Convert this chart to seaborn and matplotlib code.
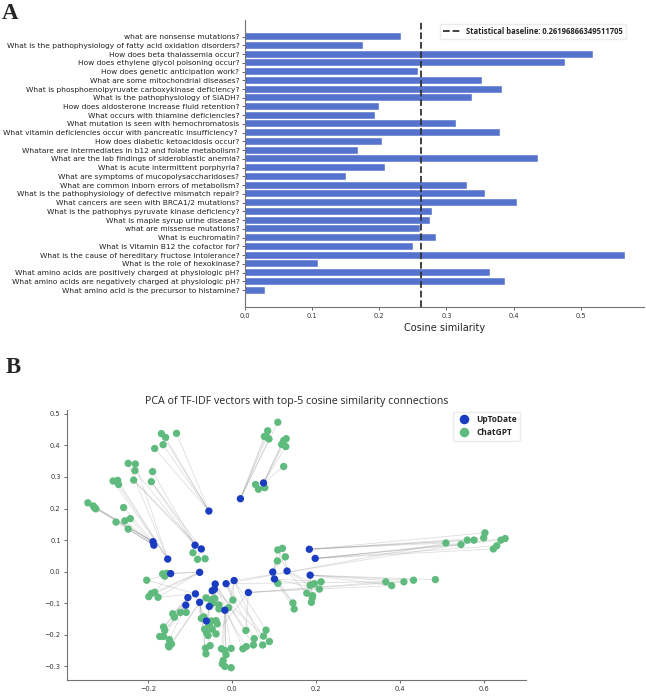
import numpy as np
import pandas as pd
import seaborn as sns
import matplotlib.pyplot as plt

sns.set_style("ticks", {"axes.edgecolor": "0.45", "xtick.color": "0.3", "ytick.color": "0.3"})
plt.rcParams['font.family'] = ['DejaVu Sans']

# ---- panel A: cosine similarity per question
questions = [
    "what are nonsense mutations?",
    "What is the pathophysiology of fatty acid oxidation disorders?",
    "How does beta thalassemia occur?",
    "How does ethylene glycol poisoning occur?",
    "How does genetic anticipation work?",
    "What are some mitochondrial diseases?",
    "What is phosphoenolpyruvate carboxykinase deficiency?",
    "What is the pathophysiology of SIADH?",
    "How does aldosterone increase fluid retention?",
    "What occurs with thiamine deficiencies?",
    "What mutation is seen with hemochromatosis",
    "What vitamin deficiencies occur with pancreatic insufficiency? ",
    "How does diabetic ketoacidosis occur?",
    "Whatare are intermediates in b12 and folate metabolism?",
    "What are the lab findings of sideroblastic anemia?",
    "What is acute intermittent porphyria?",
    "What are symptoms of mucopolysaccharidoses?",
    "What are common inborn errors of metabolism?",
    "What is the pathophysiology of defective mismatch repair?",
    "What cancers are seen with BRCA1/2 mutations?",
    "What is the pathophys pyruvate kinase deficiency?",
    "What is maple syrup urine disease?",
    "what are missense mutations?",
    "What is euchromatin?",
    "What is Vitamin B12 the cofactor for?",
    "What is the cause of hereditary fructose intolerance?",
    "What is the role of hexokinase?",
    "What amino acids are positively charged at physiologic pH?",
    "What amino acids are negatively charged at physiologic pH?",
    "What amino acid is the precursor to histamine?",
]
scores = [0.232, 0.176, 0.518, 0.476, 0.258, 0.353, 0.383, 0.338, 0.199, 0.193,
          0.315, 0.380, 0.204, 0.169, 0.437, 0.209, 0.150, 0.331, 0.357, 0.405,
          0.279, 0.276, 0.260, 0.285, 0.250, 0.566, 0.109, 0.365, 0.388, 0.030]
baseline = 0.26196866349511705

# ---- panel B: PCA coordinates
upto_x = [-0.055, -0.188, -0.186, -0.153, -0.088, -0.073, 0.020, 0.075, -0.146, -0.077,
          -0.040, -0.014, 0.005, -0.047, -0.042, -0.087, -0.105, -0.110, -0.077, -0.054,
          -0.017, -0.061, 0.039, 0.097, 0.131, 0.101, 0.184, 0.198, 0.186]
upto_y = [0.192, 0.095, 0.084, 0.040, 0.084, 0.072, 0.231, 0.281, -0.006, -0.002,
          -0.039, -0.038, -0.028, -0.060, -0.056, -0.070, -0.082, -0.106, -0.097, -0.110,
          -0.122, -0.156, -0.066, -0.001, 0.002, -0.023, 0.071, 0.042, -0.011]

chat_x = [-0.343, -0.330, -0.327, -0.324,
          -0.258, -0.276, -0.255, -0.242, -0.247,
          -0.283, -0.272, -0.270, -0.247, -0.230, -0.231, -0.234,
          -0.189, -0.192,
          -0.168, -0.158, -0.132, -0.164, -0.184,
          -0.093, -0.082, -0.064,
          0.109, 0.085, 0.077, 0.088, 0.083,
          0.129, 0.123, 0.118, 0.128, 0.123,
          0.056, 0.063, 0.078,
          0.509, 0.545, 0.560, 0.576, 0.599, 0.602, 0.622, 0.630, 0.640, 0.650,
          0.366, 0.380, 0.409, 0.432, 0.484,
          0.109, 0.120, 0.127, 0.108,
          0.186, 0.196, 0.212, 0.208, 0.178, 0.192, 0.191, 0.189,
          0.109, 0.145, 0.148,
          -0.203, -0.165, -0.155, -0.160, -0.184, -0.192, -0.198, -0.176,
          -0.141, -0.137, -0.123, -0.109,
          -0.163, -0.160, -0.163, -0.172, -0.149, -0.144, -0.150, -0.151,
          -0.062, -0.051, -0.041, -0.046, -0.031, -0.031,
          0.002, -0.008,
          -0.073, -0.067, -0.049, -0.038, -0.035, -0.054,
          -0.065, -0.061, -0.057, -0.047, -0.038,
          -0.063, -0.052, -0.062,
          -0.025, -0.017, -0.014, -0.002, -0.021, -0.023, -0.017, -0.002,
          0.033, 0.026, 0.034, 0.051, 0.053, 0.075, 0.081, 0.073, 0.089]
chat_y = [0.218, 0.208, 0.202, 0.199,
          0.203, 0.157, 0.161, 0.168, 0.135,
          0.287, 0.289, 0.276, 0.343, 0.341, 0.320, 0.290,
          0.317, 0.285,
          0.437, 0.425, 0.438, 0.402, 0.390,
          0.060, 0.039, 0.041,
          0.473, 0.446, 0.428, 0.420, 0.426,
          0.421, 0.415, 0.403, 0.396, 0.333,
          0.276, 0.261, 0.266,
          0.091, 0.086, 0.100, 0.100, 0.107, 0.123, 0.072, 0.082, 0.100, 0.105,
          -0.032, -0.044, -0.032, -0.027, -0.025,
          0.069, 0.074, 0.047, 0.034,
          -0.043, -0.038, -0.032, -0.055, -0.068, -0.076, -0.083, -0.097,
          -0.037, -0.099, -0.118,
          -0.027, -0.007, -0.005, -0.014, -0.065, -0.069, -0.079, -0.081,
          -0.133, -0.144, -0.129, -0.129,
          -0.175, -0.186, -0.205, -0.205, -0.215, -0.229, -0.238, -0.233,
          -0.083, -0.089, -0.085, -0.100, -0.105, -0.118,
          -0.090, -0.114,
          -0.148, -0.143, -0.156, -0.155, -0.165, -0.169,
          -0.182, -0.192, -0.202, -0.182, -0.197,
          -0.242, -0.234, -0.260,
          -0.244, -0.250, -0.263, -0.243, -0.281, -0.292, -0.300, -0.304,
          -0.186, -0.244, -0.237, -0.232, -0.212, -0.204, -0.185, -0.232, -0.221]

# top-5 ChatGPT neighbours of each UpToDate answer (indices into chat_*)
links = [
    [18, 19, 20, 21, 22], [0, 1, 2, 3, 4], [0, 5, 6, 7, 8], [9, 10, 11, 12, 13],
    [14, 15, 16, 17, 23], [24, 25, 23, 15, 17], [26, 27, 28, 29, 30],
    [31, 32, 33, 34, 35, 36, 37, 38], [69, 70, 71, 72, 73], [70, 71, 74, 75, 76],
    [119, 120, 122, 89, 90], [39, 49, 95, 123, 124], [95, 96, 40, 125, 126],
    [89, 90, 91, 92, 121], [91, 92, 93, 94, 127], [69, 76, 77, 97, 98],
    [77, 78, 79, 80, 81], [81, 82, 83, 84, 85], [86, 87, 108, 109, 110],
    [93, 94, 103, 104, 105], [111, 112, 113, 114, 115], [99, 100, 101, 102, 106],
    [49, 50, 51, 119, 107], [54, 55, 56, 57, 67], [54, 55, 58, 59, 62],
    [66, 67, 68, 60, 61], [39, 41, 42, 43, 44], [40, 45, 46, 47, 48],
    [50, 51, 52, 53, 63, 64, 65],
]

fig = plt.figure(figsize=(6.46, 6.96), dpi=100)

# ---------------- A
axA = fig.add_axes([245 / 646, 1 - 306.7 / 696, 399 / 646, 286.7 / 696])
sns.barplot(x=scores, y=questions, color="royalblue", orient="h", ax=axA,
            edgecolor="white", linewidth=0.3)
axA.set_ylim(30.89, -1.89)
axA.set_xlim(0, max(scores) * 1.05)
axA.axvline(baseline, color="#333333", ls="--", lw=1.3,
            label=f"Statistical baseline: {baseline}")
axA.legend(loc="upper right", bbox_to_anchor=(0.955, 0.986), borderaxespad=0,
           prop={"family": "Open Sans", "weight": "bold", "size": 5.5},
           handlelength=2.2, fancybox=True, framealpha=1, edgecolor="0.92")
axA.set_xlabel("Cosine similarity", fontsize=7, labelpad=3)
axA.set_ylabel("")
axA.tick_params(axis="y", labelsize=5.4, length=2.5, width=0.6, pad=1.5, labelcolor="#222222")
axA.tick_params(axis="x", labelsize=4.8, length=2.5, width=0.6, pad=2, labelcolor="#333333")
sns.despine(ax=axA)
for s in axA.spines.values():
    s.set_linewidth(0.8)

# ---------------- B
axB = fig.add_axes([67 / 646, 1 - 680 / 696, 459 / 646, 270 / 696])
for u, nbrs in enumerate(links):
    for c in nbrs:
        axB.plot([upto_x[u], chat_x[c]], [upto_y[u], chat_y[c]],
                 color="0.55", alpha=0.28, lw=0.6, zorder=1)

df = pd.concat([
    pd.DataFrame({"x": chat_x, "y": chat_y, "source": "ChatGPT"}),
    pd.DataFrame({"x": upto_x, "y": upto_y, "source": "UpToDate"}),
], ignore_index=True)
sns.scatterplot(data=df, x="x", y="y", hue="source", hue_order=["UpToDate", "ChatGPT"],
                palette={"UpToDate": "#1a3cc0", "ChatGPT": "#5fba7d"},
                s=28, linewidth=0, ax=axB, zorder=3)
sns.move_legend(axB, "upper right", bbox_to_anchor=(0.987, 0.993), borderaxespad=0,
                title=None, frameon=True, markerscale=1.3, handletextpad=0.4,
                prop={"family": "Open Sans", "weight": "bold", "size": 6},
                fancybox=True, framealpha=1, edgecolor="0.92")
axB.set_xlabel("")
axB.set_ylabel("")
axB.set_title("PCA of TF-IDF vectors with top-5 cosine similarity connections",
              fontsize=7.7, family="Open Sans", pad=4)
axB.tick_params(labelsize=4.8, length=2.5, width=0.6, pad=2, labelcolor="#333333")
sns.despine(ax=axB)
for s in axB.spines.values():
    s.set_linewidth(0.8)

fig.text(2 / 646, 1 - 19 / 696, "A", fontsize=16.5, weight="bold", family="Liberation Serif")
fig.text(6 / 646, 1 - 373 / 696, "B", fontsize=16.5, weight="bold", family="Liberation Serif")

fig.savefig("out.png", dpi=100)
